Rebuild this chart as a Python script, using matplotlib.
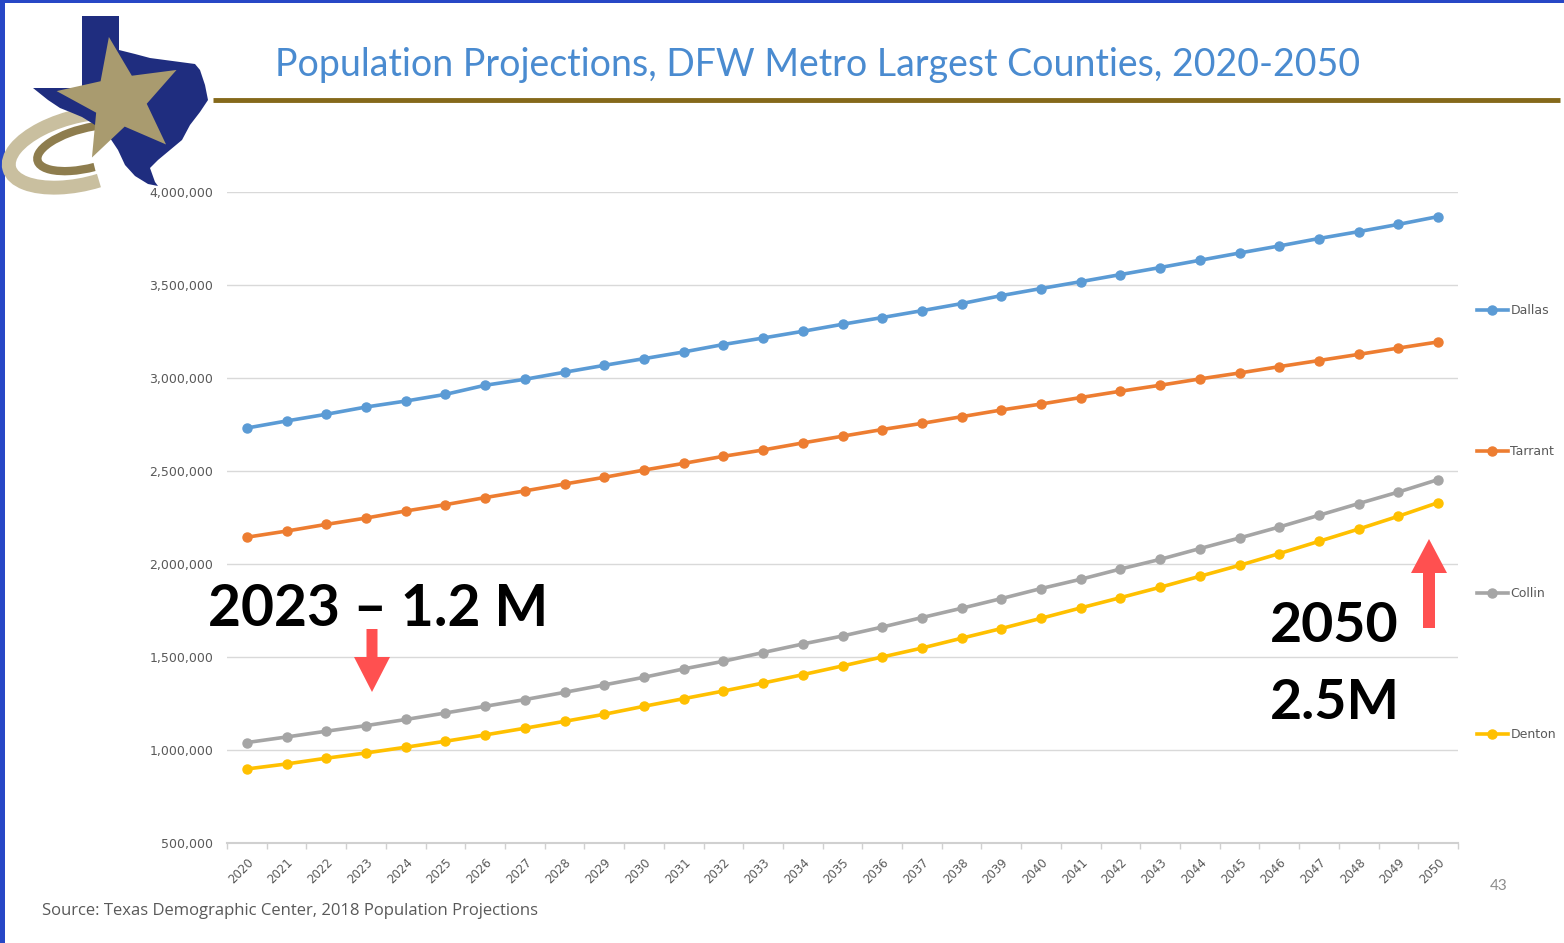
import numpy as np
import matplotlib
matplotlib.use("Agg")
import matplotlib.pyplot as plt
from matplotlib.patches import Polygon, Rectangle, FancyArrow, Arc

plt.rcParams['font.family'] = ['Lato', 'DejaVu Sans']

# data
years = list(range(2020, 2051))
dallas = [2731000, 2769000, 2805000, 2844000, 2876000, 2912000, 2961000, 2993000,
          3031000, 3068000, 3104000, 3140000, 3180000, 3215000, 3251000, 3289000,
          3325000, 3362000, 3400000, 3443000, 3481000, 3518000, 3556000, 3594000,
          3633000, 3672000, 3710000, 3750000, 3787000, 3826000, 3868000]
tarrant = [2144000, 2177000, 2213000, 2247000, 2285000, 2319000, 2357000, 2393000,
           2430000, 2466000, 2505000, 2541000, 2579000, 2613000, 2651000, 2687000,
           2723000, 2756000, 2792000, 2828000, 2860000, 2895000, 2929000, 2961000,
           2995000, 3027000, 3061000, 3094000, 3127000, 3161000, 3194000]
collin = [1040000, 1070000, 1101000, 1131000, 1164000, 1199000, 1235000, 1271000,
          1310000, 1350000, 1391000, 1436000, 1477000, 1524000, 1570000, 1613000,
          1661000, 1712000, 1762000, 1814000, 1868000, 1918000, 1973000, 2025000,
          2083000, 2140000, 2199000, 2262000, 2325000, 2387000, 2454000]
denton = [898000, 925000, 956000, 984000, 1015000, 1047000, 1081000, 1117000,
          1154000, 1192000, 1235000, 1276000, 1317000, 1360000, 1405000, 1452000,
          1500000, 1548000, 1601000, 1653000, 1708000, 1764000, 1819000, 1875000,
          1934000, 1993000, 2056000, 2122000, 2188000, 2257000, 2330000]
series = [("Dallas", dallas, "#5b9bd5"), ("Tarrant", tarrant, "#ed7d31"),
          ("Collin", collin, "#a5a5a5"), ("Denton", denton, "#ffc000")]
yticks = [500000, 1000000, 1500000, 2000000, 2500000, 3000000, 3500000, 4000000]

W, H = 1564, 943
fig = plt.figure(figsize=(W / 100, H / 100), dpi=100)
fig.patch.set_facecolor("white")

ax = fig.add_axes([227 / W, 1 - 843 / H, 1231 / W, 651 / H])
for name, vals, col in series:
    ax.plot(years, vals, '-o', color=col, lw=2.6, ms=6.5, label=name)

ax.set_xlim(2019.5, 2050.5)
ax.set_ylim(500000, 4000000)
ax.set_yticks(yticks)
ax.set_yticklabels([f"{v:,}" for v in yticks], family='DejaVu Sans', fontsize=9, color='#595959')
ax.set_xticks(years)
ax.set_xticklabels([str(y) for y in years], rotation=45, ha='right', va='top',
                   rotation_mode='anchor', family='DejaVu Sans', fontsize=8.5, color='#595959')
ax.set_xticks(np.arange(2019.5, 2051, 1), minor=True)
ax.tick_params(axis='y', length=0, pad=10)
ax.tick_params(axis='x', which='major', length=0, pad=9)
ax.tick_params(axis='x', which='minor', length=4, color='#d0d0d0', width=1)
ax.grid(axis='y', color='#d9d9d9', lw=1)
ax.set_axisbelow(True)
for s in ['top', 'right', 'left']:
    ax.spines[s].set_visible(False)
ax.spines['bottom'].set_color('#d0d0d0')
ax.spines['bottom'].set_linewidth(1.5)

leg = ax.legend(loc='center left', bbox_to_anchor=(1.006, 0.492), frameon=False,
                labelspacing=10.28, handlelength=2.5, handletextpad=0.2,
                prop={'family': 'DejaVu Sans', 'size': 9})
for t in leg.get_texts():
    t.set_color('#595959')

# overlay in pixel coordinates for decorations and notes
ov = fig.add_axes([0, 0, 1, 1], facecolor='none')
ov.set_xlim(0, W)
ov.set_ylim(H, 0)
ov.axis('off')

# blue frame
ov.add_patch(Rectangle((0, 0), 5, H, color='#2747c6', lw=0))
ov.add_patch(Rectangle((0, 0), W, 3, color='#2747c6', lw=0))

# logo
tan = '#a99b6f'
ov.add_patch(Arc((82, 150), 150, 68, angle=-14, theta1=75, theta2=350, color='#c9bf9f', lw=10))
ov.add_patch(Arc((88, 148), 104, 40, angle=-14, theta1=85, theta2=335, color='#8e7d4e', lw=6))
texas = [(82, 16), (119, 16), (119, 50), (135, 54), (150, 58), (165, 60), (180, 62),
         (195, 64), (200, 70), (205, 85), (208, 100), (200, 112), (190, 125), (182, 140),
         (170, 150), (158, 160), (150, 168), (155, 182), (158, 186), (148, 184), (135, 176),
         (125, 165), (118, 150), (108, 135), (95, 125), (82, 117), (70, 112), (60, 108),
         (48, 100), (33, 88), (82, 88)]
ov.add_patch(Polygon(texas, closed=True, color='#1f2d7f', lw=0))
ang = np.deg2rad(-100 + np.arange(10) * 36)
rad = np.where(np.arange(10) % 2 == 0, 64, 27)
star = np.c_[120 + rad * np.cos(ang), 100 + rad * np.sin(ang)]
ov.add_patch(Polygon(star, closed=True, color=tan, lw=0))

# title and rule
ov.text(275, 76, "Population Projections, DFW Metro Largest Counties, 2020-2050",
        fontsize=27, color='#4a8bd0', va='baseline', ha='left')
ov.plot([213, 1560], [100, 100], color='#85691a', lw=3.5, solid_capstyle='butt')

# notes
ov.text(208, 626, "2023 \u2013 1.2 M", fontsize=41, fontweight='bold', color='black', va='baseline')
ov.text(1270, 642, "2050", fontsize=40, fontweight='bold', color='black', va='baseline')
ov.text(1270, 719, "2.5M", fontsize=40, fontweight='bold', color='black', va='baseline')
ov.add_patch(FancyArrow(372, 629, 0, 63, width=11, head_width=36, head_length=35,
                        length_includes_head=True, color='#ff5050', lw=0))
ov.add_patch(FancyArrow(1429, 628, 0, -89, width=12, head_width=36, head_length=34,
                        length_includes_head=True, color='#ff5050', lw=0))

ov.text(42, 915, "Source: Texas Demographic Center, 2018 Population Projections",
        fontsize=12, color='#595959', va='baseline', family=['Open Sans', 'DejaVu Sans'])
ov.text(1490, 890, "43", fontsize=11, color='#8c8c8c', va='baseline')

fig.savefig("out.png", dpi=100)
